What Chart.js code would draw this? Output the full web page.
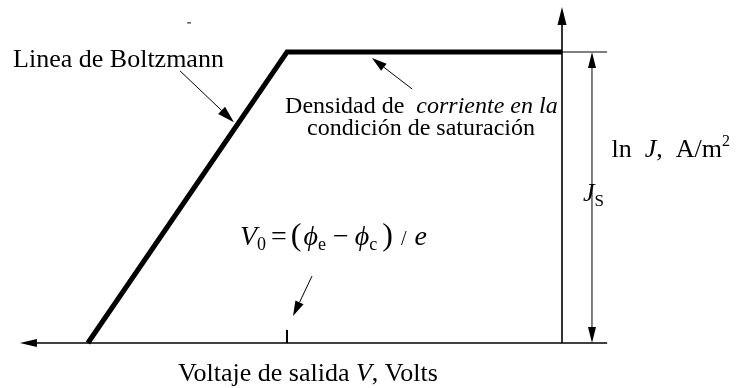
<!DOCTYPE html>
<html>
<head>
<meta charset="utf-8">
<script src="https://cdn.jsdelivr.net/npm/chart.js@4/dist/chart.umd.min.js"></script>
<style>
  html, body { margin: 0; padding: 0; background: #fff; }
  canvas { display: block; }
</style>
</head>
<body>
<canvas id="myChart" width="738" height="388"></canvas>
<script>
// Output voltage in units of V0 (knee at V0 = 1) and ln J in units of ln Js
const voltage = [1.724, 1.0, 0];
const lnJ = [0, 1, 1];

const serif = '"Liberation Serif", "Times New Roman", serif';

function font(size, italic) {
    return (italic ? 'italic ' : '') + size + 'px ' + serif;
}

function drawArrow(ctx, x1, y1, x2, y2, headLen, headW, width) {
    const ang = Math.atan2(y2 - y1, x2 - x1);
    const bx = x2 - headLen * Math.cos(ang);
    const by = y2 - headLen * Math.sin(ang);
    ctx.lineWidth = width;
    ctx.beginPath();
    ctx.moveTo(x1, y1);
    ctx.lineTo(bx, by);
    ctx.stroke();
    ctx.beginPath();
    ctx.moveTo(x2, y2);
    ctx.lineTo(bx + headW / 2 * Math.sin(ang), by - headW / 2 * Math.cos(ang));
    ctx.lineTo(bx - headW / 2 * Math.sin(ang), by + headW / 2 * Math.cos(ang));
    ctx.closePath();
    ctx.fill();
}

// draws a row of text pieces with their own fonts and vertical shifts
function drawRuns(ctx, x, y, runs) {
    let cx = x;
    runs.forEach(r => {
        ctx.font = r.font;
        ctx.fillText(r.t, cx, y + (r.dy || 0));
        cx += ctx.measureText(r.t).width + (r.gap || 0);
    });
}

const diagramLayer = {
    id: 'diagramLayer',
    afterDatasetsDraw(chart) {
        const { ctx, scales: { x, y } } = chart;
        const px = v => x.getPixelForValue(v);
        const py = l => y.getPixelForValue(l);

        ctx.save();
        ctx.strokeStyle = '#000';
        ctx.fillStyle = '#000';
        ctx.lineCap = 'butt';

        // ln J axis (up) and voltage axis (left)
        drawArrow(ctx, px(0), py(0), px(0), py(1.155), 18, 9, 1.6);
        drawArrow(ctx, px(-0.164), py(0), px(1.971), py(0), 17, 8, 1.6);

        // reference line for Js
        ctx.lineWidth = 1;
        ctx.beginPath();
        ctx.moveTo(px(0), py(1));
        ctx.lineTo(px(-0.164), py(1));
        ctx.stroke();

        // Js double arrow
        const jx = px(-0.109);
        drawArrow(ctx, jx, (py(0) + py(1)) / 2, jx, py(1), 16, 8, 1);
        drawArrow(ctx, jx, (py(0) + py(1)) / 2, jx, py(0), 16, 8, 1);

        // V0 tick
        ctx.lineWidth = 2;
        ctx.beginPath();
        ctx.moveTo(px(1), py(0));
        ctx.lineTo(px(1), py(0.045));
        ctx.stroke();

        // callout arrows
        drawArrow(ctx, px(1.389), py(0.935), px(1.193), py(0.759), 17, 10, 1);
        drawArrow(ctx, px(0.545), py(0.873), px(0.691), py(0.979), 15, 9, 1);
        drawArrow(ctx, px(0.909), py(0.230), px(0.978), py(0.093), 15, 9, 1);

        // small mark above the curve
        ctx.lineWidth = 1;
        ctx.beginPath();
        ctx.moveTo(px(1.363), py(1.100));
        ctx.lineTo(px(1.349), py(1.100));
        ctx.stroke();

        // labels
        ctx.textBaseline = 'alphabetic';
        drawRuns(ctx, px(1.996), py(0.948), [{ t: 'Linea de Boltzmann', font: font(26) }]);
        drawRuns(ctx, px(1.007), py(0.790), [
            { t: 'Densidad de  ', font: font(24) },
            { t: 'corriente en la', font: font(24, true) }
        ]);
        drawRuns(ctx, px(0.927), py(0.715), [{ t: 'condición de saturación', font: font(24) }]);
        drawRuns(ctx, px(-0.18), py(0.639), [
            { t: 'ln  ', font: font(26) },
            { t: 'J', font: font(26, true) },
            { t: ',  A/m', font: font(26) },
            { t: '2', font: font(16), dy: -11 }
        ]);
        drawRuns(ctx, px(-0.076), py(0.488), [
            { t: 'J', font: font(26, true) },
            { t: 'S', font: font(17), dy: 5 }
        ]);
        drawRuns(ctx, px(1.171), py(0.337), [
            { t: 'V', font: font(28, true) },
            { t: '0', font: font(18), dy: 5, gap: 5 },
            { t: '=', font: font(28), gap: 4 },
            { t: '(', font: font(32), gap: 2 },
            { t: 'ϕ', font: font(28, true) },
            { t: 'e', font: font(18), dy: 5, gap: 7 },
            { t: '−', font: font(28), gap: 6 },
            { t: 'ϕ', font: font(28, true) },
            { t: 'c', font: font(18), dy: 5, gap: 5 },
            { t: ')', font: font(32), gap: 8 },
            { t: '/', font: font(20), gap: 8 },
            { t: 'e', font: font(28, true) }
        ]);
        drawRuns(ctx, px(1.396), py(-0.131), [
            { t: 'Voltaje de salida ', font: font(26) },
            { t: 'V', font: font(26, true) },
            { t: ', Volts', font: font(26) }
        ]);
        ctx.restore();
    }
};

const points = voltage.map((v, i) => ({ x: v, y: lnJ[i] }));

new Chart(document.getElementById('myChart'), {
    type: 'line',
    data: {
        datasets: [{
            label: 'ln J',
            data: points,
            borderColor: '#000',
            borderWidth: 5,
            borderJoinStyle: 'miter',
            pointRadius: 0,
            fill: false,
            tension: 0
        }]
    },
    options: {
        responsive: false,
        animation: false,
        devicePixelRatio: 1,
        layout: { padding: 0 },
        plugins: {
            legend: { display: false },
            tooltip: { enabled: false }
        },
        scales: {
            x: { type: 'linear', reverse: true, min: -0.64, max: 2.0436, display: false },
            y: { type: 'linear', min: -0.1546, max: 1.1787, display: false }
        }
    },
    plugins: [diagramLayer]
});
</script>
</body>
</html>
